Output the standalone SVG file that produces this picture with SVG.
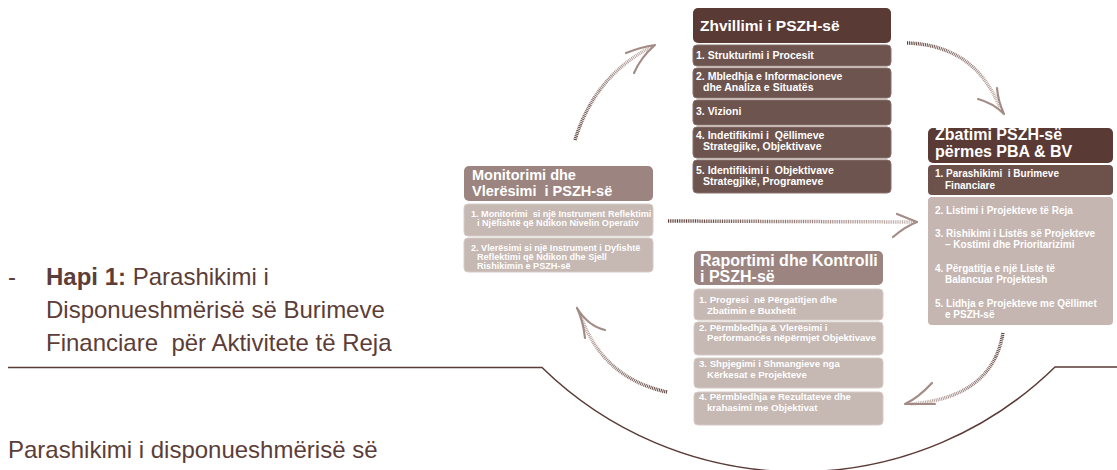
<svg xmlns="http://www.w3.org/2000/svg" width="1117" height="470" viewBox="0 0 1117 470">
<style>
.hd{font-family:"Liberation Sans",Arial,sans-serif;font-weight:bold;fill:#fff}
.it{font-family:"Liberation Sans",Arial,sans-serif;font-weight:bold;fill:#fff}
.body{fill:#5c3d38;font-family:"Liberation Sans",Arial,sans-serif;font-size:24px}
.dk{fill:#5a3a35}
.dki{fill:#6e544e;stroke:#8a716b;stroke-width:1}
.md{fill:#9c8580}
.lt{fill:#c6b8b3;stroke:#d6cbc7;stroke-width:1}
.arr{fill:none;stroke-width:3.5;stroke-dasharray:1 0.8}
.head{fill:none;stroke:#a38c86;stroke-width:2.2;stroke-linecap:round}
.rule{fill:none;stroke:#5a3b36;stroke-width:1.5}
</style>
<defs>
<linearGradient id="gA1" gradientUnits="userSpaceOnUse" x1="575" y1="140" x2="653" y2="46"><stop offset="0" stop-color="#5a3b36"/><stop offset="1" stop-color="#c9b8b3"/></linearGradient>
<linearGradient id="gA2" gradientUnits="userSpaceOnUse" x1="907" y1="43" x2="1000" y2="108"><stop offset="0" stop-color="#5a3b36"/><stop offset="1" stop-color="#c9b8b3"/></linearGradient>
<linearGradient id="gA3" gradientUnits="userSpaceOnUse" x1="668" y1="221" x2="914" y2="222"><stop offset="0" stop-color="#5a3b36"/><stop offset="1" stop-color="#c9b8b3"/></linearGradient>
<linearGradient id="gA4" gradientUnits="userSpaceOnUse" x1="1003" y1="333" x2="910" y2="404"><stop offset="0" stop-color="#5a3b36"/><stop offset="1" stop-color="#c9b8b3"/></linearGradient>
<linearGradient id="gA5" gradientUnits="userSpaceOnUse" x1="667" y1="392" x2="580" y2="314"><stop offset="0" stop-color="#5a3b36"/><stop offset="1" stop-color="#c9b8b3"/></linearGradient>
</defs>
<rect width="1117" height="470" fill="#fff"/>

<g id="connectors">
<path class="arr" stroke="url(#gA1)" d="M 575 140 Q 595 75 653 46"/>
<path class="head" d="M 626 53 Q 641 47 655 45 M 634 73 Q 641 57 655 45"/>
<path class="arr" stroke="url(#gA2)" d="M 907 43 Q 975 45 1000 108"/>
<path class="head" d="M 978 99 Q 993 103 1004 114 M 997 88 Q 998 101 1004 114"/>
<path class="arr" stroke="url(#gA3)" d="M 668 221 L 914 222"/>
<path class="head" d="M 893 237 Q 906 226 917 222 M 897 214 L 917 222"/>
<path class="arr" stroke="url(#gA4)" d="M 1003 333 Q 992 398 910 404"/>
<path class="head" d="M 932 383 Q 918 398 905 404 M 935 404 L 905 404"/>
<path class="arr" stroke="url(#gA5)" d="M 667 392 Q 602 378 580 314"/>
<path class="head" d="M 585 338 Q 583 320 577 308 M 605 330 Q 588 326 577 308"/>
</g>

<g id="zhvillimi">
<rect class="dk" x="693" y="8" width="198" height="35" rx="5"/>
<text class="hd" x="700" y="31" font-size="15.5">Zhvillimi i PSZH-së</text>
<rect class="dki" x="693" y="45" width="198" height="21" rx="4"/>
<rect class="dki" x="693" y="68" width="198" height="30" rx="4"/>
<rect class="dki" x="693" y="100" width="198" height="25" rx="4"/>
<rect class="dki" x="693" y="127" width="198" height="31" rx="4"/>
<rect class="dki" x="693" y="160" width="198" height="33" rx="4"/>
<g class="it" font-size="10.5">
<text x="696" y="59">1. Strukturimi i Procesit</text>
<text x="696" y="80">2. Mbledhja e Informacioneve</text>
<text x="703" y="91">dhe Analiza e Situatës</text>
<text x="696" y="115">3. Vizioni</text>
<text x="696" y="139">4. Indetifikimi i&#160; Qëllimeve</text>
<text x="703" y="150">Strategjike, Objektivave</text>
<text x="696" y="174">5. Identifikimi i&#160; Objektivave</text>
<text x="703" y="185">Strategjikë, Programeve</text>
</g>
</g>

<g id="zbatimi">
<rect class="dk" x="928" y="128" width="185" height="35" rx="5" fill="#573732"/>
<text class="hd" x="935" y="140" font-size="16">Zbatimi PSZH-së</text>
<text class="hd" x="935" y="157" font-size="16">përmes PBA &amp; BV</text>
<rect x="928" y="165" width="185" height="30" rx="4" fill="#6d524b"/>
<rect x="928" y="197" width="185" height="128" rx="4" fill="#c5b6b1"/>
<g class="it" font-size="10">
<text x="935" y="177">1. Parashikimi&#160; i Burimeve</text>
<text x="945" y="189">Financiare</text>
<text x="935" y="214">2. Listimi i Projekteve të Reja</text>
<text x="935" y="237">3. Rishikimi i Listës së Projekteve</text>
<text x="945" y="248">– Kostimi dhe Prioritarizimi</text>
<text x="935" y="272">4. Përgatitja e një Liste të</text>
<text x="945" y="283">Balancuar Projektesh</text>
<text x="935" y="307">5. Lidhja e Projekteve me Qëllimet</text>
<text x="945" y="318">e PSZH-së</text>
</g>
</g>

<g id="monitorimi">
<rect class="md" x="464" y="166" width="189" height="35" rx="5"/>
<text class="hd" x="472" y="180" font-size="14.5">Monitorimi dhe</text>
<text class="hd" x="472" y="196" font-size="14.5">Vlerësimi&#160; i PSZH-së</text>
<rect class="lt" x="464" y="204" width="189" height="32" rx="4"/>
<rect class="lt" x="464" y="238" width="189" height="34" rx="4"/>
<g class="it" font-size="9.1">
<text x="471" y="217">1. Monitorimi&#160; si një Instrument Reflektimi</text>
<text x="477" y="226">i Njëfishtë që Ndikon Nivelin Operativ</text>
<text x="471" y="251">2. Vlerësimi si një Instrument i Dyfishtë</text>
<text x="477" y="260">Reflektimi që Ndikon dhe Sjell</text>
<text x="477" y="269">Rishikimin e PSZH-së</text>
</g>
</g>

<g id="raportimi">
<rect class="md" x="694" y="251" width="189" height="34" rx="5"/>
<text class="hd" x="700" y="266" font-size="16">Raportimi dhe Kontrolli</text>
<text class="hd" x="700" y="282" font-size="16">i PSZH-së</text>
<rect class="lt" x="694" y="289" width="189" height="31" rx="4"/>
<rect class="lt" x="694" y="322" width="189" height="33" rx="4"/>
<rect class="lt" x="694" y="358" width="189" height="30" rx="4"/>
<rect class="lt" x="694" y="392" width="189" height="33" rx="4"/>
<g class="it" font-size="9.6">
<text x="699" y="303">1. Progresi&#160; në Përgatitjen dhe</text>
<text x="707" y="314">Zbatimin e Buxhetit</text>
<text x="699" y="331">2. Përmbledhja &amp; Vlerësimi i</text>
<text x="707" y="341">Performancës nëpërmjet Objektivave</text>
<text x="699" y="367">3. Shpjegimi i Shmangieve nga</text>
<text x="707" y="378">Kërkesat e Projekteve</text>
<text x="699" y="400">4. Përmbledhja e Rezultateve dhe</text>
<text x="707" y="411">krahasimi me Objektivat</text>
</g>
</g>

<g id="text-block">
<text class="body" x="8" y="285">-</text>
<text class="body" x="46" y="285"><tspan font-weight="bold">Hapi 1:</tspan> Parashikimi i</text>
<text class="body" x="46" y="318">Disponueshmërisë së Burimeve</text>
<text class="body" x="46" y="351">Financiare&#160; për Aktivitete të Reja</text>
<text class="body" x="8" y="458">Parashikimi i disponueshmërisë së</text>
<path class="rule" d="M 8 367.5 L 542 367.5 A 367 367 0 0 0 1055 367 L 1117 367"/>
</g>
</svg>
